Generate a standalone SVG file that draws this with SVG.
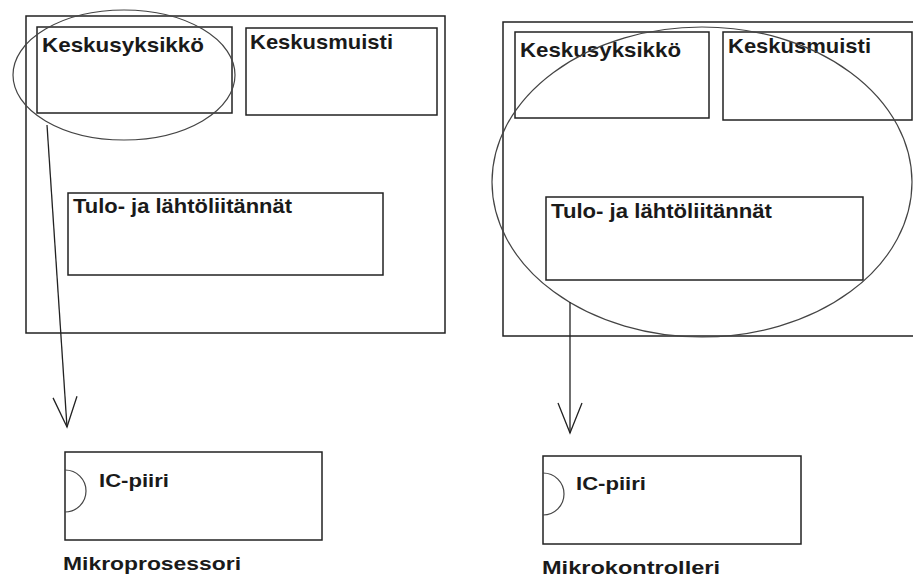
<svg xmlns="http://www.w3.org/2000/svg" width="913" height="578" viewBox="0 0 913 578">
  <defs>
    <style>
      .box { fill: none; stroke: #222; stroke-width: 1.5; }
      .ring { fill: none; stroke: #444; stroke-width: 1.2; }
      .lbl { font-family: "Liberation Sans", Arial, sans-serif; font-weight: bold; font-size: 21px; fill: #1a1a1a; }
      .chip { font-family: "Liberation Sans", Arial, sans-serif; font-weight: bold; font-size: 18px; fill: #1a1a1a; }
      .cap { font-family: "Liberation Sans", Arial, sans-serif; font-weight: bold; font-size: 19px; fill: #1a1a1a; }
      .wire { fill: none; stroke: #222; stroke-width: 1.3; }
    </style>
    <!-- open V arrowhead, tip on the line end -->
    <marker id="vee" viewBox="0 0 34 30" refX="32" refY="15" markerWidth="34" markerHeight="30" markerUnits="userSpaceOnUse" orient="auto">
      <path d="M2 3 L32 15 L2 27" fill="none" stroke="#222" stroke-width="1.3"/>
    </marker>
  </defs>
  <rect width="913" height="578" fill="#fff"/>

  <!-- Left: microprocessor -->
  <g id="computer-left">
    <rect class="box" x="26" y="16" width="419" height="317"/>
  </g>
  <g id="cpu-left">
    <rect class="box" x="37" y="27" width="195" height="86"/>
    <text class="lbl" x="42" y="52" textLength="162" lengthAdjust="spacingAndGlyphs">Keskusyksikkö</text>
  </g>
  <g id="memory-left">
    <rect class="box" x="246" y="28" width="191" height="87"/>
    <text class="lbl" x="250" y="49" textLength="143" lengthAdjust="spacingAndGlyphs">Keskusmuisti</text>
  </g>
  <g id="io-left">
    <rect class="box" x="68" y="193" width="315" height="82"/>
    <text class="lbl" x="73" y="213" textLength="219" lengthAdjust="spacingAndGlyphs">Tulo- ja lähtöliitännät</text>
  </g>
  <g id="highlight-left">
    <ellipse class="ring" cx="124" cy="75" rx="111" ry="65"/>
  </g>
  <g id="chip-left">
    <rect class="box" x="65" y="452" width="257" height="88"/>
    <path class="ring" d="M65 470 A21 21 0 0 1 65 512"/>
    <text class="chip" x="99" y="487" textLength="70" lengthAdjust="spacingAndGlyphs">IC-piiri</text>
  </g>
  <g id="caption-left">
    <text class="cap" x="63" y="570" textLength="178" lengthAdjust="spacingAndGlyphs">Mikroprosessori</text>
  </g>

  <!-- Right: microcontroller -->
  <g id="computer-right">
    <rect class="box" x="503" y="22" width="420" height="314"/>
  </g>
  <g id="cpu-right">
    <rect class="box" x="515" y="32" width="194" height="86"/>
    <text class="lbl" x="520" y="57" textLength="161" lengthAdjust="spacingAndGlyphs">Keskusyksikkö</text>
  </g>
  <g id="memory-right">
    <rect class="box" x="723" y="32" width="189" height="88"/>
    <text class="lbl" x="728" y="53" textLength="143" lengthAdjust="spacingAndGlyphs">Keskusmuisti</text>
  </g>
  <g id="io-right">
    <rect class="box" x="546" y="197" width="317" height="83"/>
    <text class="lbl" x="551" y="218" textLength="221" lengthAdjust="spacingAndGlyphs">Tulo- ja lähtöliitännät</text>
  </g>
  <g id="highlight-right">
    <ellipse class="ring" cx="702" cy="182" rx="210" ry="155"/>
  </g>
  <g id="chip-right">
    <rect class="box" x="543" y="456" width="258" height="88"/>
    <path class="ring" d="M543 473 A21 21 0 0 1 543 515"/>
    <text class="chip" x="576" y="490" textLength="70" lengthAdjust="spacingAndGlyphs">IC-piiri</text>
  </g>
  <g id="caption-right">
    <text class="cap" x="542" y="574" textLength="178" lengthAdjust="spacingAndGlyphs">Mikrokontrolleri</text>
  </g>

  <!-- Connectors -->
  <g id="connectors">
    <line class="wire" x1="47" y1="125" x2="67" y2="427" marker-end="url(#vee)"/>
    <line class="wire" x1="570" y1="302" x2="570" y2="433" marker-end="url(#vee)"/>
  </g>
</svg>
